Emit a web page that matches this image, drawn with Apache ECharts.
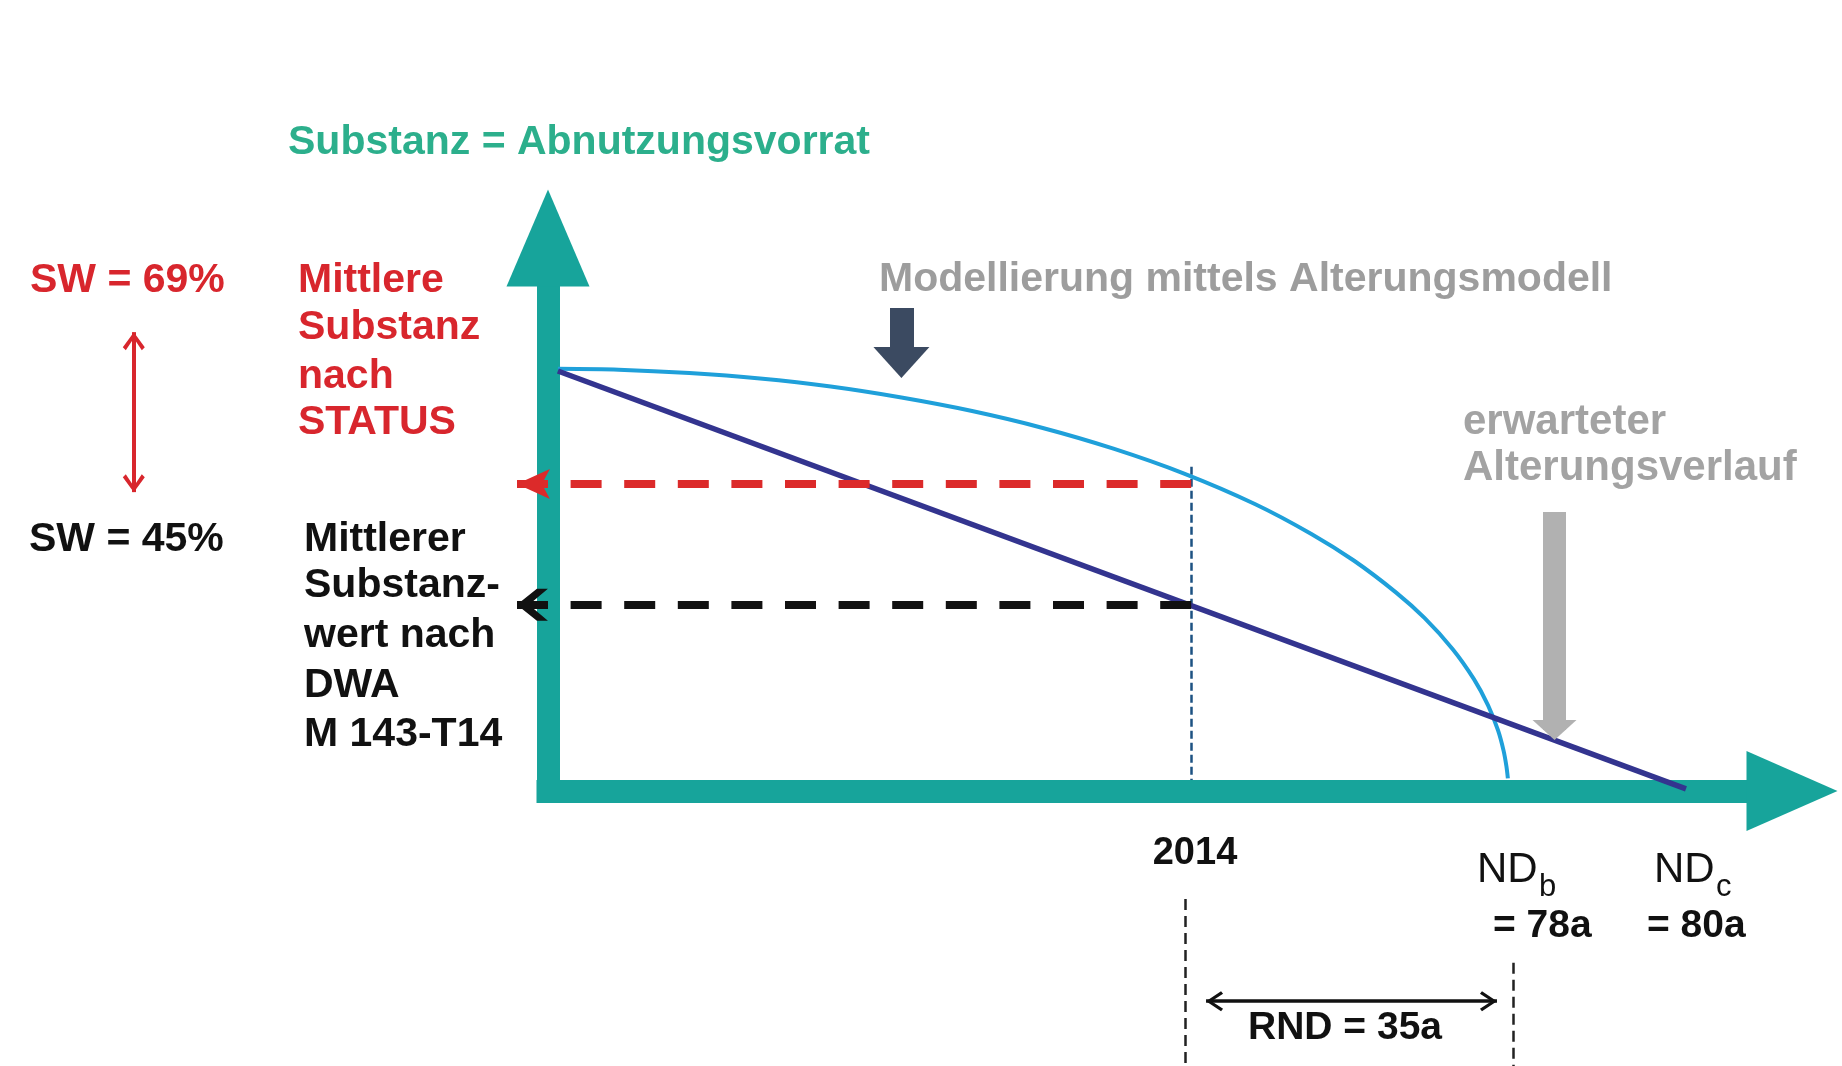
<!DOCTYPE html>
<html><head><meta charset="utf-8">
<script src="https://cdn.jsdelivr.net/npm/echarts@6/dist/echarts.min.js"></script>
<style>html,body{margin:0;padding:0;background:#fff}#c{width:1842px;height:1066px}</style>
</head><body><div id="c"></div>
<script>
// Diagram units: x = age (schematic years), y = Substanz in %
const xRange = [0, 88];
const yRange = [0, 131];
// "Modellierung mittels Alterungsmodell" – expected ageing curve
const curveAlterung = [[0.7,100],[5,99.8],[10,99],[15,97.7],[20,95.8],[25,93.2],[30,90],[35,86],[40,81.1],[45,75.2],[50,68],[54,60.9],[57,54.6],[60,47],[62,41],[64,33.6],[65.5,26.5],[66.5,20.3],[67.2,14.4],[67.6,9.5],[67.8,5.8],[67.9,3]];
// linear depreciation DWA M 143-T14
const lineDWA = [[0.7,99.5],[80.5,0.5]];
// reference lines
const marker2014 = [[45.5,76.8],[45.5,2.6]];
const statusLine = [[45.5,72.7],[-2.2,72.7]];
const dwaLine = [[45.5,44.1],[-2.2,44.1]];
const swArrow = [[-29.3,108.7],[-29.3,70.8]];
const modelArrow = [[25,114.4],[25,101.5]];
const expectedArrow = [[71.2,66.1],[71.2,14.45]];
const dash2014Bottom = [[45.1,-25.6],[45.1,-66]];
const dashNDbBottom = [[68.3,-40.7],[68.3,-66]];
const rndArrow = [[46.55,-49.8],[67.13,-49.8]];
// texts
const titleText = 'Substanz = Abnutzungsvorrat';
const modelText = 'Modellierung mittels Alterungsmodell';
const expectedText = ['erwarteter', 'Alterungsverlauf'];
const statusLabel = 'SW = 69%';
const dwaLabel = 'SW = 45%';
const statusText = ['Mittlere', 'Substanz', 'nach', 'STATUS'];
const dwaText = ['Mittlerer', 'Substanz-', 'wert nach', 'DWA', 'M 143-T14'];
const xLabels = ['2014', '= 78a', '= 80a', 'RND = 35a'];

const FF = '"Liberation Sans", Arial, sans-serif';
const TEAL = '#17a49b';
const RED = '#d8262d';

const redHead = 'path://M0,0L15,33L0,25L-15,33ZM0,-33L0.01,-33L0,-32.99Z';
const blackChev = 'path://M0,0L16,20L16,31L0,12L-16,31L-16,20ZM0,-31L0.01,-31L0,-30.99Z';
const thinChev = 'path://M0,0L11,15L8,18L0,6L-8,18L-11,15ZM0,-18L0.01,-18L0,-17.99Z';
const rndChev = 'path://M0,0L10,15L7.5,17L0,5.5L-7.5,17L-10,15ZM0,-17L0.01,-17L0,-16.99Z';

function linesSeries(coords, color, width, dash, sym, symSize, z) {
  return {
    type: 'lines', coordinateSystem: 'cartesian2d', clip: false, silent: true,
    polyline: false, z: z || 3,
    symbol: sym || ['none','none'], symbolSize: symSize ? [symSize, symSize] : 10,
    lineStyle: {color: color, width: width, type: dash || 'solid', opacity: 1, curveness: 0},
    data: [{coords: coords}]
  };
}

function txt(x, baseline, text, size, color, weight, align) {
  return {type:'text', x: x, y: baseline - 0.31*size, silent: true,
    style: {text: text, font: (weight||'bold') + ' ' + size + 'px ' + FF, fill: color,
      align: align || 'left', verticalAlign: 'middle'}};
}

const graphics = [
  txt(288, 155, titleText, 41, '#2caf8c'),
  txt(879, 292, modelText, 41, '#9d9d9d'),
  txt(1463, 435, expectedText[0], 42, '#a3a3a3'),
  txt(1463, 481, expectedText[1], 42, '#a3a3a3'),
  txt(30, 293, statusLabel, 41, RED),
  txt(29, 552, dwaLabel, 41, '#111'),
  txt(1195, 865, xLabels[0], 38, '#111', 'bold', 'center'),
  txt(1477, 883, 'ND', 42, '#111', 'normal'),
  txt(1539, 897, 'b', 31, '#111', 'normal'),
  txt(1493, 938, xLabels[1], 39, '#111'),
  txt(1654, 883, 'ND', 42, '#111', 'normal'),
  txt(1716, 897, 'c', 31, '#111', 'normal'),
  txt(1647, 938, xLabels[2], 39, '#111'),
  txt(1345, 1040, xLabels[3], 39, '#111', 'bold', 'center')
];
const statusBase = [293, 340, 389, 435];
statusText.forEach((t,i) => graphics.push(txt(298, statusBase[i], t, 41, RED)));
const dwaBase = [552, 598, 648, 698, 747];
dwaText.forEach((t,i) => graphics.push(txt(304, dwaBase[i], t, 41, '#111')));

const chart = echarts.init(document.getElementById('c'), null, {renderer: 'canvas'});
chart.setOption({
  backgroundColor: '#ffffff',
  animation: false,
  grid: {left: 548, right: 50, top: 238, bottom: 275, containLabel: false, outerBoundsMode: 'none'},
  xAxis: {type: 'value', min: xRange[0], max: xRange[1],
    axisLine: {show: true, onZero: true, symbol: ['none','triangle'], symbolSize: [80, 91],
      lineStyle: {color: TEAL, width: 23, cap: 'square'}},
    axisTick: {show: false}, axisLabel: {show: false}, splitLine: {show: false}},
  yAxis: {type: 'value', min: yRange[0], max: yRange[1],
    axisLine: {show: true, onZero: true, symbol: ['none','triangle'], symbolSize: [83, 97],
      lineStyle: {color: TEAL, width: 23, cap: 'square'}},
    axisTick: {show: false}, axisLabel: {show: false}, splitLine: {show: false}},
  series: [
    linesSeries(marker2014, '#1d5282', 2.5, [8,4], null, null, 2),
    {type: 'line', data: curveAlterung, smooth: 0.3, showSymbol: false, silent: true, z: 4,
      lineStyle: {color: '#1fa0da', width: 4}},
    {type: 'line', data: lineDWA, showSymbol: false, silent: true, z: 4,
      lineStyle: {color: '#33348f', width: 5.5}},
    linesSeries(statusLine, '#dc2a2a', 8, [31, 22.6], ['none', redHead], [30, 66], 5),
    linesSeries(dwaLine, '#111111', 8, [31, 22.6], ['none', blackChev], [32, 62], 5),
    linesSeries(swArrow, RED, 4, 'solid', [thinChev, thinChev], [22, 36], 5),
    linesSeries(modelArrow, '#3b4a61', 24, 'solid', ['none', 'triangle'], [56, 31], 5),
    linesSeries(expectedArrow, '#b1b1b1', 23, 'solid', ['none', 'triangle'], [44, 20], 5),
    linesSeries(dash2014Bottom, '#222', 2.5, [11, 6], null, null, 5),
    linesSeries(dashNDbBottom, '#222', 2.5, [11, 6], null, null, 5),
    linesSeries(rndArrow, '#111', 3.5, 'solid', [rndChev, rndChev], [20, 34], 5)
  ],
  graphic: {elements: graphics}
});
</script>
</body></html>
